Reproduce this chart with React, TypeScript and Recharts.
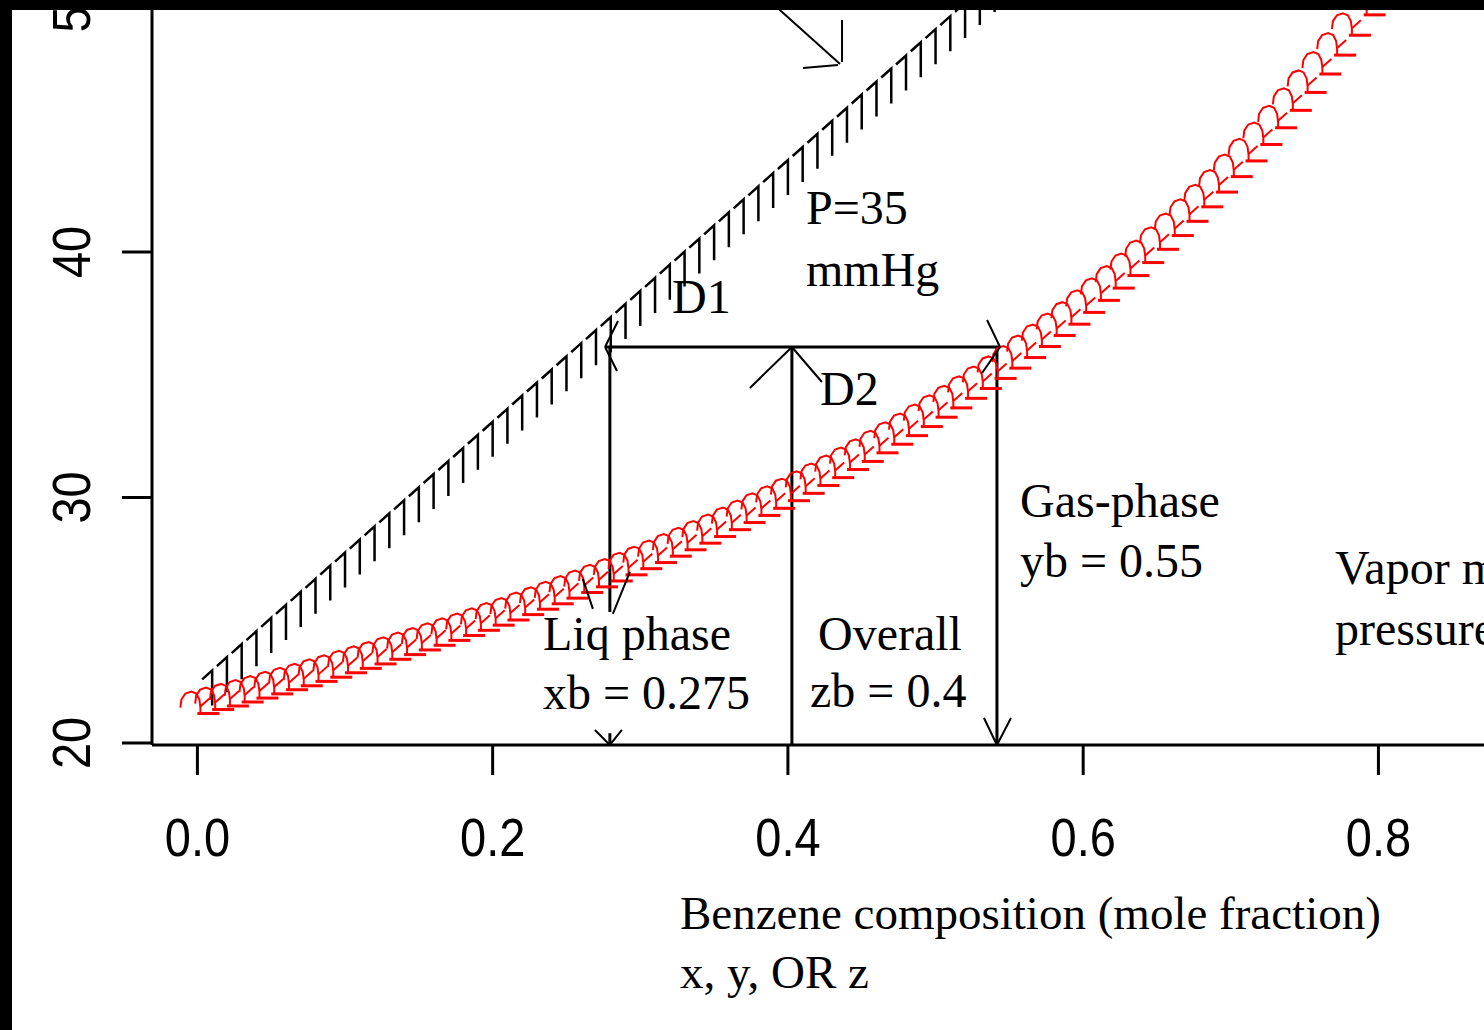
import React from "react";
import {
  ComposedChart,
  Scatter,
  XAxis,
  YAxis,
  ReferenceLine,
  ReferenceDot,
} from "recharts";

// liquid line (bubble pressure), black marks
const liqX = [
  0.01, 0.02, 0.03, 0.04, 0.05, 0.06, 0.07, 0.08, 0.09, 0.1, 0.11, 0.12, 0.13,
  0.14, 0.15, 0.16, 0.17, 0.18, 0.19, 0.2, 0.21, 0.22, 0.23, 0.24, 0.25, 0.26,
  0.27, 0.28, 0.29, 0.3, 0.31, 0.32, 0.33, 0.34, 0.35, 0.36, 0.37, 0.38, 0.39,
  0.4, 0.41, 0.42, 0.43, 0.44, 0.45, 0.46, 0.47, 0.48, 0.49, 0.5, 0.51, 0.52,
  0.53, 0.54, 0.55,
];
const liqP = [
  21.53, 22.07, 22.6, 23.13, 23.67, 24.2, 24.73, 25.26, 25.8, 26.33, 26.86,
  27.4, 27.93, 28.46, 28.99, 29.53, 30.06, 30.59, 31.13, 31.66, 32.19, 32.73,
  33.26, 33.79, 34.33, 34.86, 35.39, 35.92, 36.46, 36.99, 37.52, 38.06, 38.59,
  39.12, 39.66, 40.19, 40.72, 41.25, 41.79, 42.32, 42.85, 43.39, 43.92, 44.45,
  44.99, 45.52, 46.05, 46.58, 47.12, 47.65, 48.18, 48.72, 49.25, 49.78, 50.32,
];

// vapour line (dew pressure), red marks
const vapX = [
  0.0, 0.01, 0.02, 0.03, 0.04, 0.05, 0.06, 0.07, 0.08, 0.09, 0.1, 0.11, 0.12,
  0.13, 0.14, 0.15, 0.16, 0.17, 0.18, 0.19, 0.2, 0.21, 0.22, 0.23, 0.24, 0.25,
  0.26, 0.27, 0.28, 0.29, 0.3, 0.31, 0.32, 0.33, 0.34, 0.35, 0.36, 0.37, 0.38,
  0.39, 0.4, 0.41, 0.42, 0.43, 0.44, 0.45, 0.46, 0.47, 0.48, 0.49, 0.5, 0.51,
  0.52, 0.53, 0.54, 0.55, 0.56, 0.57, 0.58, 0.59, 0.6, 0.61, 0.62, 0.63, 0.64,
  0.65, 0.66, 0.67, 0.68, 0.69, 0.7, 0.71, 0.72, 0.73, 0.74, 0.75, 0.76, 0.77,
  0.78, 0.79, 0.8, 0.81,
];
const vapP = [
  21.2, 21.36, 21.51, 21.67, 21.83, 22.0, 22.17, 22.33, 22.51, 22.68, 22.86,
  23.04, 23.22, 23.41, 23.6, 23.79, 23.98, 24.18, 24.38, 24.59, 24.8, 25.01,
  25.23, 25.45, 25.67, 25.9, 26.13, 26.36, 26.6, 26.85, 27.1, 27.35, 27.61,
  27.87, 28.14, 28.41, 28.69, 28.98, 29.27, 29.56, 29.87, 30.17, 30.49, 30.81,
  31.14, 31.47, 31.82, 32.17, 32.52, 32.89, 33.27, 33.65, 34.04, 34.44, 34.85,
  35.27, 35.7, 36.15, 36.6, 37.06, 37.54, 38.03, 38.53, 39.04, 39.57, 40.11,
  40.67, 41.25, 41.84, 42.44, 43.07, 43.71, 44.38, 45.06, 45.77, 46.5, 47.25,
  48.02, 48.83, 49.66, 50.51, 51.4,
];

const xTicks = [0, 0.2, 0.4, 0.6, 0.8];
const yTicks = [20, 30, 40, 50];

// tie line at system pressure
const pSys = 36.13;
const xLiq = 0.2794;
const xAll = 0.4027;
const xVap = 0.5416;
const tieStart = 0.2761;
const tieEnd = 0.5437;

const liqData = liqX.map((x, i) => ({ x, p: liqP[i] }));
const vapData = vapX.map((x, i) => ({ x, p: vapP[i] }));

// page geometry (crop of a bigger plot)
const X0 = 197.4;
const KX = 1476.3;
const KY = 24.55;
const X_MIN = (152 - X0) / KX;
const X_MAX = 1.05;
const Y_MIN = 20 - 2 / KY;
const Y_MAX = 60;
const PLOT_W = (X_MAX - X_MIN) * KX;
const PLOT_H = (Y_MAX - Y_MIN) * KY;
const TOP = -250;
const MARGIN_TOP = 745 - PLOT_H - TOP;
const AXIS_W = 152;
const X_AXIS_H = 280;
const CHART_W = AXIS_W + PLOT_W + 10;
const CHART_H = MARGIN_TOP + PLOT_H + X_AXIS_H;

const serif = "'Liberation Serif', 'Times New Roman', serif";
const sans = "'Liberation Sans', Arial, sans-serif";

const XTick = (props: any) => (
  <text
    transform={`translate(${props.x},${856 - TOP}) scale(0.87,1)`}
    textAnchor="middle"
    fontFamily={sans}
    fontSize={54}
    fill="#000"
  >
    {Number(props.payload.value).toFixed(1)}
  </text>
);

const YTick = (props: any) => (
  <text
    transform={`translate(90,${props.y}) rotate(-90) scale(0.87,1)`}
    textAnchor="middle"
    fontFamily={sans}
    fontSize={54}
    fill="#000"
  >
    {props.payload.value}
  </text>
);

const LiqMark = (props: any) => {
  const { cx, cy } = props;
  return (
    <path
      d={`M${cx},${cy} L${cx},${cy - 35} L${cx - 10},${cy - 26}`}
      stroke="#000"
      strokeWidth={2.5}
      fill="none"
    />
  );
};

const VapMark = (props: any) => {
  const { cx, cy } = props;
  return (
    <g stroke="#ff0000" fill="none">
      <path
        d={`M${cx - 17},${cy - 6} L${cx - 16},${cy - 14} L${cx - 12},${cy - 20} L${cx - 6},${cy - 22} L${cx - 1},${cy - 20} L${cx + 2},${cy - 14} L${cx + 3},${cy - 6} L${cx + 3},${cy}`}
        strokeWidth={2}
      />
      <path d={`M${cx + 3},${cy - 7} L${cx + 12},${cy - 15}`} strokeWidth={2} />
      <path d={`M${cx},${cy} L${cx + 22},${cy}`} strokeWidth={3} />
    </g>
  );
};

// arrow heads drawn relative to their tip
const head = (arms: number[][]) => (props: any) => {
  const { cx, cy } = props;
  const d = arms
    .map((a) => `M${cx + a[0]},${cy + a[1]} L${cx + a[2]},${cy + a[3]}`)
    .join(" ");
  return <path d={d} stroke="#000" strokeWidth={2} fill="none" />;
};

const labels = [
  { t: "P=35", x: 806, y: 224 },
  { t: "mmHg", x: 806, y: 286 },
  { t: "D1", x: 672, y: 313 },
  { t: "D2", x: 820, y: 405 },
  { t: "Gas-phase", x: 1020, y: 517 },
  { t: "yb = 0.55", x: 1020, y: 577 },
  { t: "Vapor mixture", x: 1335, y: 584 },
  { t: "pressure", x: 1335, y: 645 },
  { t: "Liq phase", x: 543, y: 650 },
  { t: "xb = 0.275", x: 543, y: 709 },
  { t: "Overall", x: 818, y: 650 },
  { t: "zb = 0.4", x: 810, y: 707 },
];

export default function App() {
  const line = { stroke: "#000", strokeWidth: 3 };
  return (
    <div
      style={{
        position: "absolute",
        left: 0,
        top: 0,
        width: 1484,
        height: 1030,
        overflow: "hidden",
        background: "#fff",
      }}
    >
      <div style={{ position: "absolute", left: 0, top: TOP }}>
        <ComposedChart
          width={CHART_W}
          height={CHART_H}
          margin={{ top: MARGIN_TOP, right: 10, bottom: 0, left: 0 }}
        >
          <XAxis
            type="number"
            dataKey="x"
            domain={[X_MIN, X_MAX]}
            ticks={xTicks}
            interval={0}
            allowDataOverflow
            height={X_AXIS_H}
            tickSize={30}
            tickLine={line}
            axisLine={line}
            tick={XTick}
          />
          <YAxis
            type="number"
            dataKey="p"
            domain={[Y_MIN, Y_MAX]}
            ticks={yTicks}
            interval={0}
            allowDataOverflow
            width={AXIS_W}
            tickSize={30}
            tickLine={line}
            axisLine={line}
            tick={YTick}
          />
          <Scatter data={liqData} shape={LiqMark} isAnimationActive={false} />
          <Scatter data={vapData} shape={VapMark} isAnimationActive={false} />

          <ReferenceLine
            segment={[{ x: tieStart, y: pSys }, { x: tieEnd, y: pSys }]}
            {...line}
          />
          <ReferenceLine
            segment={[{ x: xLiq, y: pSys }, { x: xLiq, y: 25.34 }]}
            {...line}
          />
          <ReferenceLine
            segment={[{ x: xLiq, y: 20.4 }, { x: xLiq, y: Y_MIN }]}
            {...line}
          />
          <ReferenceLine
            segment={[{ x: xAll, y: pSys }, { x: xAll, y: Y_MIN }]}
            {...line}
          />
          <ReferenceLine
            segment={[{ x: xVap, y: pSys }, { x: xVap, y: Y_MIN }]}
            {...line}
          />

          <ReferenceDot x={tieStart} y={pSys} r={0} shape={head([[0, 0, 12, 24], [0, 0, 13, -26]])} />
          <ReferenceDot x={tieEnd} y={pSys} r={0} shape={head([[0, 0, -13, -27], [0, 0, -18, 26]])} />
          <ReferenceDot x={xAll} y={pSys} r={0} shape={head([[0, 0, -42, 41], [0, 0, 30, 35]])} />
          <ReferenceDot x={xLiq} y={Y_MIN} r={0} shape={head([[0, 0, -15, -15], [0, 0, 12, -15]])} />
          <ReferenceDot x={xVap} y={Y_MIN} r={0} shape={head([[0, 0, -13, -27], [0, 0, 14, -27]])} />
          <ReferenceDot x={xLiq} y={25.34} r={0} shape={head([[-27, -33, -17, -3], [20, -40, 3, 2]])} />
          <ReferenceDot
            x={0.4353}
            y={47.66}
            r={0}
            shape={head([
              [0, 0, -116, -104],
              [2, -2, 2, -44],
              [-2, 1, -37, 4],
            ])}
          />
        </ComposedChart>
      </div>

      <svg
        width={1484}
        height={1030}
        style={{ position: "absolute", left: 0, top: 0 }}
      >
        {labels.map((l) => (
          <text key={l.t} x={l.x} y={l.y} fontFamily={serif} fontSize={48} fill="#000">
            {l.t}
          </text>
        ))}
        <text x={680} y={929} fontFamily={serif} fontSize={47} fill="#000">
          Benzene composition (mole fraction)
        </text>
        <text x={680} y={988} fontFamily={serif} fontSize={47} fill="#000">
          x, y, OR z
        </text>
      </svg>

      <div style={{ position: "absolute", left: 0, top: 0, width: 1484, height: 10, background: "#000" }} />
      <div style={{ position: "absolute", left: 0, top: 0, width: 12, height: 1030, background: "#000" }} />
    </div>
  );
}
